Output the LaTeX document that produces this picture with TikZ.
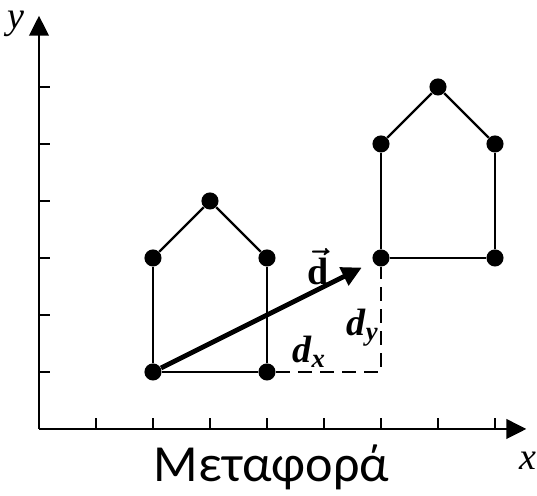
\documentclass[tikz,border=0pt]{standalone}
\usepackage{amsmath}
\usepackage{fontspec}
\newfontfamily\greekfont{Carlito}
\newfontfamily\labelfont{Liberation Serif}
\usetikzlibrary{arrows.meta, positioning, calc}

\begin{document}
\begin{tikzpicture}[>={Triangle[length=0.35cm, width=0.34cm]},
	dot/.style={circle, fill=black, inner sep=0pt, minimum size=0.3cm},
	wall/.style={line width=1.2pt},
	axis/.style={line width=1.4pt},
	lbl/.style={font=\fontsize{19}{22}\selectfont\labelfont\itshape, inner sep=1pt}]
	\useasboundingbox (-0.684,-1.175) rectangle (8.737,7.526);
	
	% Axes
	\coordinate (O) at (0,0);
	\coordinate (xend) at (8.55,0);
	\coordinate (yend) at (0,7.25);
	\draw[axis, ->] (O) -- (xend);
	\draw[axis, ->] (O) -- (yend);
	\foreach \i in {1,2,3,4,5,6,7,8} {
		\draw[axis] (\i,0) -- (\i,0.2);
	}
	\foreach \j in {1,2,3,4,5,6} {
		\draw[axis] (0,\j) -- (0.2,\j);
	}
	\node[lbl] (xlab) at (8.57,-0.55) {x};
	\node[lbl] (ylab) at (-0.4,7.1) {y};
	
	% First house
	\node[dot] (a1) at (2,1) {};
	\node[dot] (a2) at (4,1) {};
	\node[dot] (a3) at (4,3) {};
	\node[dot] (a4) at (3,4) {};
	\node[dot] (a5) at (2,3) {};
	\draw[wall] (a1) -- (a2);
	\draw[wall] (a2) -- (a3);
	\draw[wall] (a3) -- (a4);
	\draw[wall] (a4) -- (a5);
	\draw[wall] (a5) -- (a1);
	
	% Second house
	\node[dot] (b1) at (6,3) {};
	\node[dot] (b2) at (8,3) {};
	\node[dot] (b3) at (8,5) {};
	\node[dot] (b4) at (7,6) {};
	\node[dot] (b5) at (6,5) {};
	\draw[wall] (b1) -- (b2);
	\draw[wall] (b2) -- (b3);
	\draw[wall] (b3) -- (b4);
	\draw[wall] (b4) -- (b5);
	\draw[wall] (b5) -- (b1);
	
	% Displacement
	\coordinate (c) at (6,1);
	\draw[wall, dashed, dash pattern=on 7pt off 4pt] (a2) -- (c) -- (b1);
	\draw[->, line width=2.4pt, shorten >=0.22cm] (a1) -- (b1);
	\node[lbl, font=\fontsize{19}{22}\selectfont\labelfont\bfseries] (dvec) at (4.9,2.84) {$\boldsymbol{\vec{\text{d}}}$};
	\node[lbl, font=\fontsize{19}{22}\selectfont\labelfont\bfseries\itshape] (dx) at (4.74,1.36) {d\textsubscript{x}};
	\node[lbl, font=\fontsize{19}{22}\selectfont\labelfont\bfseries\itshape] (dy) at (5.68,1.78) {d\textsubscript{y}};
	
	% Title
	\node (title) at (4.08,-0.68) {\fontsize{26}{30}\selectfont\greekfont Μεταφορά};
\end{tikzpicture}
\end{document}
